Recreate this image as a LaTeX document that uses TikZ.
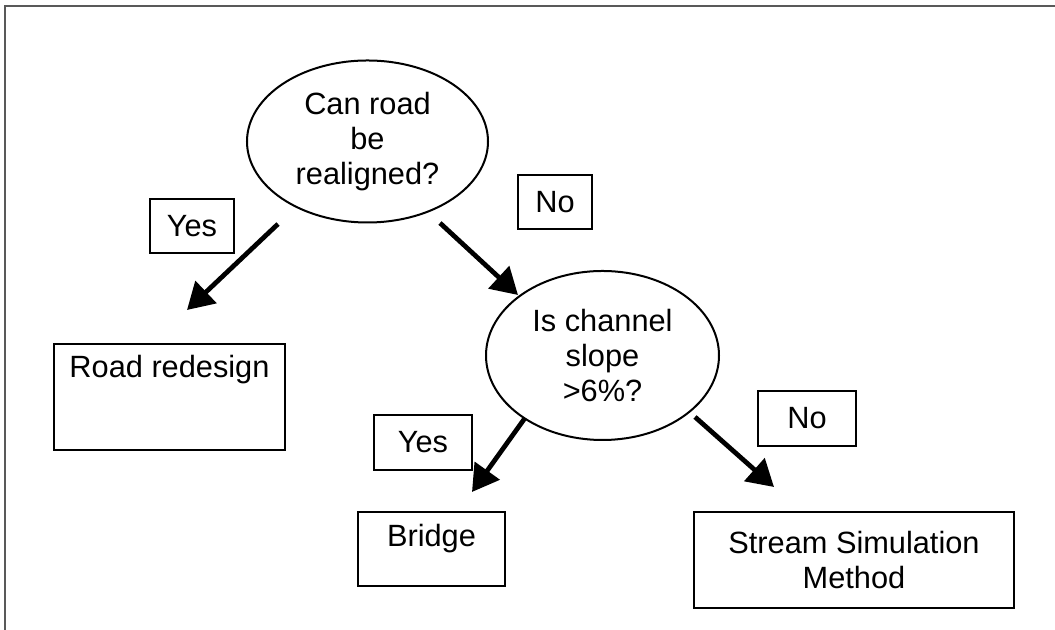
\documentclass[tikz,border=0pt]{standalone}
\usepackage{fontspec}
\setmainfont{Liberation Sans}
\usetikzlibrary{shapes.geometric,arrows.meta}

\tikzset{
  question/.style={draw,ellipse,line width=0.8pt,inner sep=0pt,align=center},
  answer/.style={draw,rectangle,line width=0.8pt,inner sep=0pt,align=center},
  arr/.style={line width=1.9pt,-{Triangle[length=10.5pt,width=12pt]}}
}

\begin{document}
\begin{tikzpicture}[x=0.4pt,y=-0.4pt,font=\fontsize{12.3pt}{14pt}\selectfont]
\useasboundingbox (0,0) rectangle (1055,630);
\draw[black!65,line width=1pt] (5,700) |- (1100,6);
\node[question,minimum width=96.4pt,minimum height=64.8pt] (realign) at (367.5,141.5) {Can road\\be\\realigned?};
\node[question,minimum width=93.2pt,minimum height=67.6pt] (slope) at (602.5,355.5) {Is channel\\slope\\>6\%?};
\node[answer,minimum width=33.6pt,minimum height=21.6pt] (yesA) at (192,226) {Yes};
\node[answer,minimum width=29.6pt,minimum height=21.6pt] (noA) at (555,202) {No};
\node[answer,minimum width=39.2pt,minimum height=22pt] (yesB) at (423,442.5) {Yes};
\node[answer,minimum width=39.2pt,minimum height=22pt] (noB) at (807,418.5) {No};
\node[answer,minimum width=92.4pt,minimum height=42.4pt,text height=8.4pt,text depth=23.6pt] (redesign) at (169.5,397) {Road redesign};
\node[answer,minimum width=58.8pt,minimum height=29.6pt,text height=8.4pt,text depth=10pt] (bridge) at (431.5,549) {Bridge};
\node[answer,minimum width=128pt,minimum height=38.4pt] (stream) at (854,560) {Stream Simulation\\Method};
\coordinate (yesAfrom) at (278,224);
\coordinate (yesAto) at (187,310);
\coordinate (noAfrom) at (440,223);
\coordinate (noAto) at (518,295);
\coordinate (yesBfrom) at (525,418);
\coordinate (yesBto) at (472,492);
\coordinate (noBfrom) at (695,417);
\coordinate (noBto) at (774,487);
\draw[arr] (yesAfrom) -- (yesAto);
\draw[arr] (noAfrom) -- (noAto);
\draw[arr] (yesBfrom) -- (yesBto);
\draw[arr] (noBfrom) -- (noBto);
\end{tikzpicture}
\end{document}
